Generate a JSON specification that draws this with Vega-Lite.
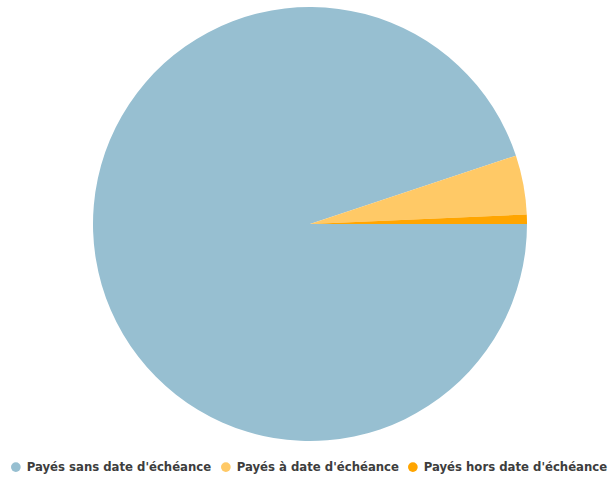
{
  "$schema": "https://vega.github.io/schema/vega-lite/v6.json",
  "width": 620,
  "height": 448,
  "autosize": {"type": "pad"},
  "padding": 0,
  "background": "white",
  "data": {
    "values": [
      {"category": "Payés sans date d'échéance", "value": 94.9, "order": 1},
      {"category": "Payés à date d'échéance", "value": 4.4, "order": 2},
      {"category": "Payés hors date d'échéance", "value": 0.7, "order": 3}
    ]
  },
  "mark": {"type": "arc", "radius": 217},
  "encoding": {
    "theta": {
      "field": "value",
      "type": "quantitative",
      "stack": true,
      "scale": {"range": [1.5707963, 7.8539816]}
    },
    "order": {"field": "order", "type": "quantitative"},
    "color": {
      "field": "category",
      "type": "nominal",
      "sort": ["Payés sans date d'échéance", "Payés à date d'échéance", "Payés hors date d'échéance"],
      "scale": {
        "domain": ["Payés sans date d'échéance", "Payés à date d'échéance", "Payés hors date d'échéance"],
        "range": ["#97bfd1", "#ffc966", "#ffa500"]
      },
      "legend": {
        "orient": "none",
        "legendX": 10,
        "legendY": 461,
        "direction": "horizontal",
        "title": null,
        "symbolType": "circle",
        "symbolSize": 95,
        "symbolStrokeWidth": 0,
        "labelFont": "DejaVu Sans",
        "labelFontWeight": "bold",
        "labelFontSize": 11.7,
        "labelColor": "#3d3d3d",
        "labelLimit": 300,
        "columnPadding": 8,
        "symbolOffset": 0,
        "labelOffset": 5
      }
    }
  },
  "config": {"view": {"stroke": null}}
}
